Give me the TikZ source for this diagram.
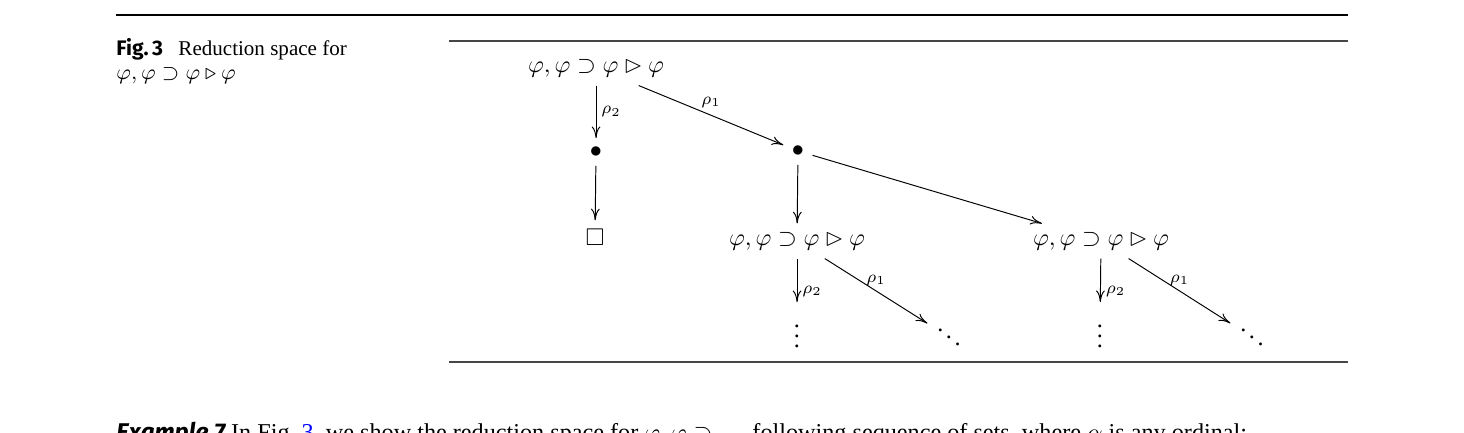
\documentclass[tikz,border=0pt]{standalone}
\usepackage{amssymb}
\usepackage{fontspec}
\usetikzlibrary{arrows.meta}
\setmainfont{Liberation Serif}
\newfontfamily\figsans{Fira Sans}
\definecolor{rulegray}{RGB}{70,70,70}
\definecolor{linkblue}{RGB}{0,0,255}
\newcommand{\redform}{$\varphi,\varphi\supset\varphi\rhd\varphi$}

\begin{document}
\begin{tikzpicture}[x=0.4133pt,y=-0.4133pt,
  redarrow/.style={-{Computer Modern Rightarrow[length=4.8pt,width=3.6pt]}},
  arrlabel/.style={inner sep=2pt,font=\scriptsize},
  captext/.style={anchor=base west,inner sep=0pt,font=\fontsize{8.7}{10}\selectfont},
  bodytext/.style={anchor=base west,inner sep=0pt}]
  \useasboundingbox (0,0) rectangle (1464,433);
  \clip (0,0) rectangle (1464,433);
  % page rules
  \draw[line width=1.2pt] (116,15) -- (1348,15);
  \draw[rulegray,line width=0.5pt] (449,41) -- (1348,41);
  \draw[rulegray,line width=0.5pt] (449,362) -- (1348,362);
  % caption
  \node[captext] (figlbl) at (116,55) {\figsans\bfseries Fig.\,3};
  \node[captext] (figcap) at (178,55) {Reduction space for};
  \node[captext] (figcapb) at (116,79) {$\varphi,\varphi\supset\varphi\triangleright\varphi$};
  % reduction space
  \node (top) at (596,68) {\redform};
  \node (dotl) at (596,152) {$\bullet$};
  \node (dotr) at (798,151) {$\bullet$};
  \node (box) at (595,237) {$\square$};
  \node (midf) at (797,241) {\redform};
  \node (rightf) at (1101,241) {\redform};
  \node (vdm) at (797,329) {$\vdots$};
  \node[text height=9.2pt,text depth=0pt] (ddm) at (949,337) {$\ddots$};
  \node (vdr) at (1100,329) {$\vdots$};
  \node[text height=9.2pt,text depth=0pt] (ddr) at (1252,337) {$\ddots$};
  \draw[redarrow] (top) -- node[arrlabel,right] {$\rho_2$} (dotl);
  \draw[redarrow] (top) -- node[arrlabel,above=1pt] {$\rho_1$} (dotr);
  \draw[redarrow] (dotl) -- (box);
  \draw[redarrow] (dotr) -- (midf);
  \draw[redarrow] (dotr) -- (rightf);
  \draw[redarrow] (midf) -- node[arrlabel,right,pos=0.75] {$\rho_2$} (vdm);
  \draw[redarrow] (midf) -- node[arrlabel,above] {$\rho_1$} (ddm);
  \draw[redarrow] (rightf) -- node[arrlabel,right,pos=0.75] {$\rho_2$} (vdr);
  \draw[redarrow] (rightf) -- node[arrlabel,above] {$\rho_1$} (ddr);
  % running text below the figure
  \node[bodytext] (bodyl) at (116,440)
    {{\figsans\bfseries\itshape Example 7} In Fig.~\textcolor{linkblue}{3}, we show the reduction space for $\varphi,\varphi\supset$};
  \node[bodytext] (bodyr) at (752,440)
    {following sequence of sets, where $\alpha$ is any ordinal:};
\end{tikzpicture}
\end{document}
